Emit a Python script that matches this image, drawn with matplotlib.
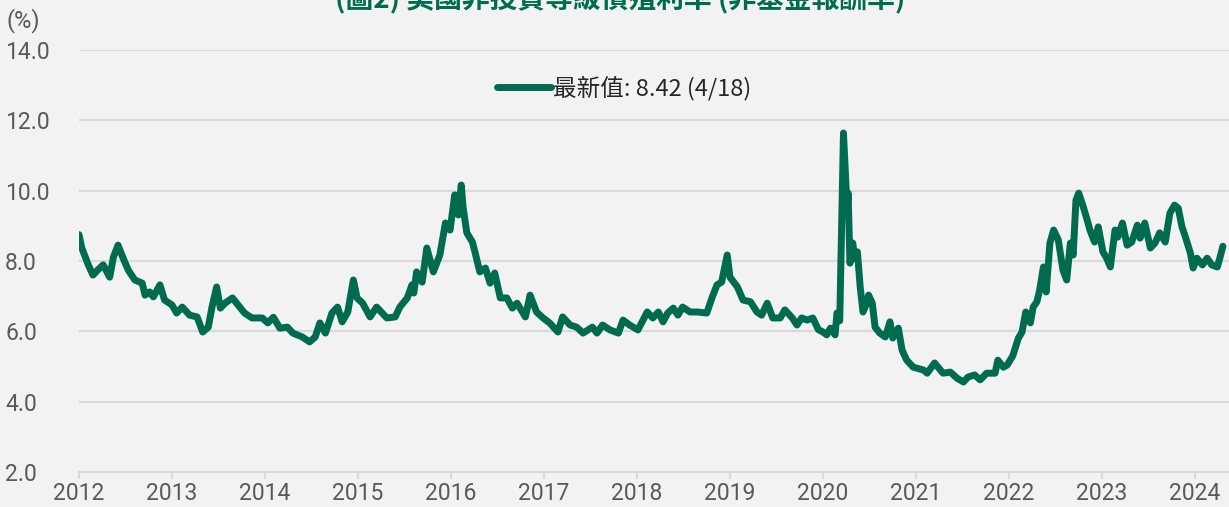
import matplotlib
matplotlib.use("Agg")
import matplotlib.pyplot as plt
import numpy as np

# decimal year / yield (%)
years = [
    2012.00, 2012.03, 2012.10, 2012.15, 2012.20, 2012.26, 2012.33, 2012.37, 2012.42, 2012.47,
    2012.53, 2012.60, 2012.68, 2012.71, 2012.76, 2012.80, 2012.87, 2012.92, 2013.00, 2013.05,
    2013.11, 2013.19, 2013.27, 2013.33, 2013.39, 2013.43, 2013.48, 2013.52, 2013.57, 2013.65,
    2013.71, 2013.78, 2013.86, 2013.97, 2014.03, 2014.09, 2014.16, 2014.24, 2014.30, 2014.40,
    2014.48, 2014.54, 2014.59, 2014.65, 2014.72, 2014.78, 2014.83, 2014.89, 2014.95, 2014.99,
    2015.05, 2015.13, 2015.20, 2015.26, 2015.31, 2015.40, 2015.45, 2015.53, 2015.58, 2015.60,
    2015.63, 2015.69, 2015.74, 2015.81, 2015.88, 2015.94, 2015.99, 2016.04, 2016.08, 2016.11,
    2016.13, 2016.17, 2016.23, 2016.26, 2016.31, 2016.37, 2016.42, 2016.47, 2016.53, 2016.60,
    2016.66, 2016.71, 2016.80, 2016.85, 2016.92, 2016.99, 2017.06, 2017.15, 2017.20, 2017.28,
    2017.35, 2017.42, 2017.52, 2017.57, 2017.63, 2017.71, 2017.80, 2017.85, 2017.92, 2018.01,
    2018.11, 2018.17, 2018.23, 2018.28, 2018.33, 2018.39, 2018.44, 2018.49, 2018.57, 2018.65,
    2018.75, 2018.81, 2018.86, 2018.91, 2018.97, 2019.00, 2019.08, 2019.14, 2019.22, 2019.29,
    2019.34, 2019.40, 2019.46, 2019.54, 2019.59, 2019.67, 2019.72, 2019.77, 2019.83, 2019.89,
    2019.95, 2020.00, 2020.04, 2020.08, 2020.13, 2020.15, 2020.18, 2020.22, 2020.26, 2020.27,
    2020.29, 2020.32, 2020.34, 2020.37, 2020.40, 2020.43, 2020.47, 2020.49, 2020.53, 2020.56,
    2020.61, 2020.67, 2020.72, 2020.75, 2020.81, 2020.85, 2020.90, 2020.97, 2021.08, 2021.12,
    2021.20, 2021.29, 2021.37, 2021.44, 2021.51, 2021.56, 2021.63, 2021.69, 2021.76, 2021.85,
    2021.88, 2021.94, 2021.98, 2022.04, 2022.10, 2022.14, 2022.18, 2022.23, 2022.26, 2022.30,
    2022.33, 2022.37, 2022.40, 2022.44, 2022.48, 2022.53, 2022.58, 2022.62, 2022.66, 2022.69,
    2022.72, 2022.75, 2022.80, 2022.84, 2022.87, 2022.92, 2022.96, 2023.01, 2023.05, 2023.09,
    2023.14, 2023.17, 2023.22, 2023.27, 2023.32, 2023.38, 2023.41, 2023.46, 2023.52, 2023.57,
    2023.62, 2023.68, 2023.73, 2023.78, 2023.82, 2023.86, 2023.89, 2023.95, 2023.98, 2024.02,
    2024.08, 2024.13, 2024.18, 2024.24, 2024.27, 2024.30,
]
yields = [
    8.75, 8.37, 7.89, 7.60, 7.74, 7.89, 7.54, 8.11, 8.45, 8.11,
    7.74, 7.46, 7.37, 7.03, 7.12, 6.98, 7.32, 6.89, 6.75, 6.52,
    6.69, 6.46, 6.41, 5.98, 6.12, 6.69, 7.26, 6.66, 6.80, 6.95,
    6.75, 6.52, 6.38, 6.38, 6.24, 6.40, 6.09, 6.12, 5.95, 5.84,
    5.70, 5.84, 6.24, 5.95, 6.52, 6.69, 6.27, 6.55, 7.46, 6.95,
    6.80, 6.41, 6.69, 6.52, 6.38, 6.41, 6.69, 6.95, 7.32, 7.09,
    7.69, 7.40, 8.37, 7.69, 8.17, 9.08, 8.88, 9.88, 9.31, 10.16,
    9.53, 8.80, 8.54, 8.23, 7.69, 7.80, 7.37, 7.66, 6.95, 6.95,
    6.66, 6.80, 6.41, 7.03, 6.55, 6.38, 6.24, 5.98, 6.41, 6.18,
    6.12, 5.95, 6.12, 5.95, 6.18, 6.04, 5.95, 6.32, 6.18, 6.04,
    6.55, 6.38, 6.55, 6.27, 6.52, 6.66, 6.46, 6.69, 6.55, 6.55,
    6.52, 6.98, 7.32, 7.40, 8.17, 7.54, 7.26, 6.89, 6.84, 6.55,
    6.46, 6.80, 6.38, 6.38, 6.61, 6.38, 6.18, 6.38, 6.32, 6.38,
    6.05, 5.98, 5.90, 6.09, 5.90, 6.52, 6.30, 11.64, 9.45, 9.93,
    7.94, 8.51, 8.08, 8.26, 7.26, 6.55, 6.80, 7.03, 6.80, 6.12,
    5.95, 5.84, 6.27, 5.81, 6.09, 5.47, 5.18, 4.98, 4.90, 4.81,
    5.10, 4.81, 4.84, 4.67, 4.56, 4.70, 4.76, 4.62, 4.81, 4.81,
    5.18, 4.98, 5.04, 5.30, 5.80, 5.98, 6.55, 6.24, 6.69, 6.84,
    7.18, 7.83, 7.12, 8.51, 8.88, 8.60, 7.74, 7.46, 8.51, 8.17,
    9.73, 9.93, 9.53, 9.17, 8.88, 8.54, 8.97, 8.26, 8.08, 7.83,
    8.88, 8.68, 9.08, 8.45, 8.54, 9.02, 8.65, 9.08, 8.37, 8.51,
    8.80, 8.54, 9.36, 9.59, 9.50, 8.97, 8.74, 8.23, 7.80, 8.08,
    7.89, 8.08, 7.89, 7.83, 8.11, 8.42,
]
year_ticks = list(range(2012, 2025))
y_ticks = [2.0, 4.0, 6.0, 8.0, 10.0, 12.0, 14.0]

title = "(圖2) 美國非投資等級債殖利率 (非基金報酬率)"
legend_label = "最新值: 8.42 (4/18)"

GREEN = "#006b4f"
BG = "#f2f2f2"
GRID = "#d9d9d9"
TXT = "#595959"

plt.rcParams["font.family"] = ["Roboto", "Noto Sans CJK TC", "DejaVu Sans"]

fig = plt.figure(figsize=(12.29, 5.07), dpi=100, facecolor=BG)
ax = fig.add_axes([79 / 1229, 1 - 472 / 507, 1 - 79 / 1229, (472 - 50) / 507])
ax.set_facecolor(BG)

ax.plot(years, yields, color=GREEN, lw=5, solid_joinstyle="round",
        solid_capstyle="round", label=legend_label, zorder=3)

ax.set_ylim(2, 14)
ax.set_xlim(2012, 2012 + 1150 / 93)
ax.set_yticks(y_ticks)
ax.set_yticklabels([f"{v:.1f}" for v in y_ticks])
ax.set_xticks(year_ticks)
ax.set_xticklabels([str(y) for y in year_ticks])
ax.grid(axis="y", color=GRID, lw=1.5, zorder=0)
ax.set_axisbelow(True)

for s in ["top", "right", "left"]:
    ax.spines[s].set_visible(False)
ax.spines["bottom"].set_color(GRID)
ax.spines["bottom"].set_linewidth(1.5)

# left-aligned y labels starting near the figure edge
ax.tick_params(axis="y", length=0, pad=74 / 1.389, labelsize=16.5, labelcolor=TXT)
ax.tick_params(axis="x", length=5, width=1.5, color=GRID, pad=2,
               labelsize=16.5, labelcolor=TXT)
for lab in ax.get_yticklabels():
    lab.set_horizontalalignment("left")

fig.text(7 / 1229, 1 - 21 / 507, "(%)", fontsize=17, color=TXT, va="center", ha="left")

fig.text(0.505, 1 - 13 / 507, title, fontsize=20, fontweight="bold", color=GREEN,
         ha="center", va="bottom", family=["Noto Sans CJK TC", "DejaVu Sans"])

leg = ax.legend(loc="center", bbox_to_anchor=(0.474, 0.91), frameon=False,
                handlelength=2.3, handletextpad=0.1,
                prop={"family": ["Noto Sans CJK TC", "DejaVu Sans"], "size": 17})
for t in leg.get_texts():
    t.set_color("#262626")

fig.savefig("out.png", dpi=100, facecolor=BG)
